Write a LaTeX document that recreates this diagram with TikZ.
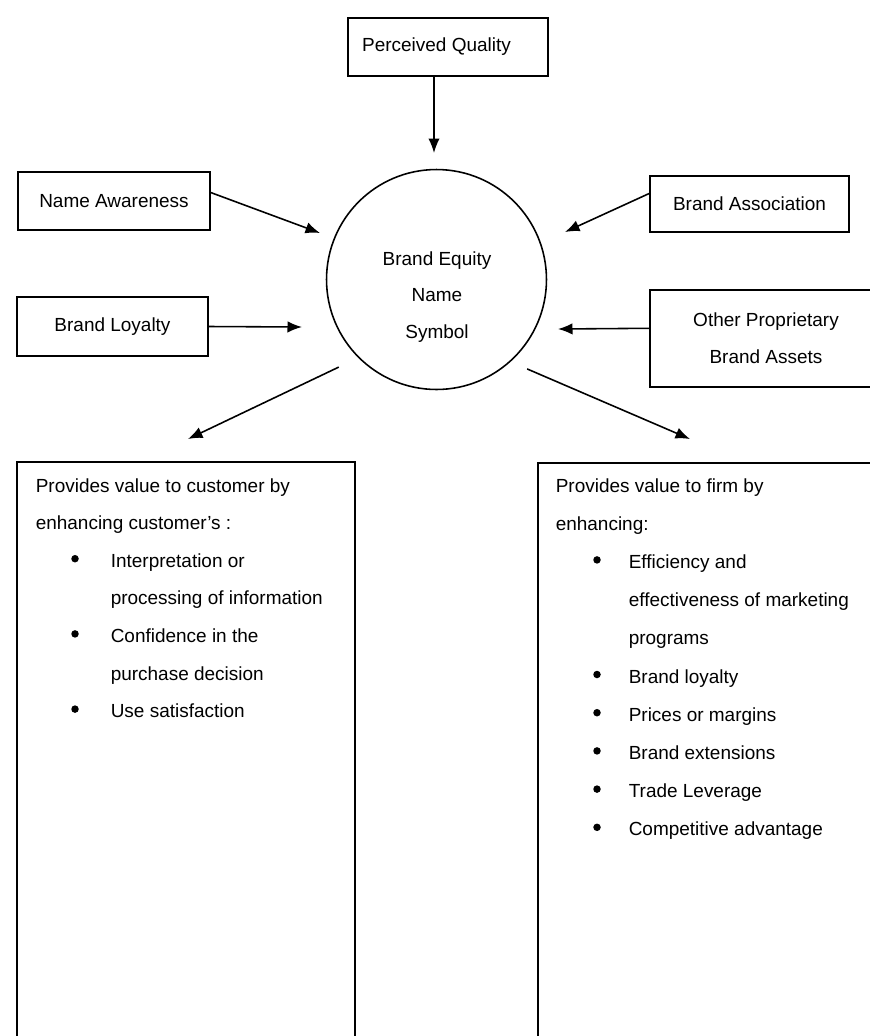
\documentclass[tikz,border=0pt]{standalone}
\usepackage{fontspec}
\setmainfont{Liberation Sans}
\usetikzlibrary{arrows.meta}

\begin{document}
\begin{tikzpicture}[x=0.02cm,y=-0.02cm,line width=0.9pt,
    font=\fontsize{10.8}{13}\selectfont,
    box/.style={draw,rectangle,inner sep=0pt,align=center},
    panel/.style={draw,rectangle,inner sep=0pt,line width=1pt},
    arr/.style={-{Latex[length=2.9mm,width=2.3mm]}},
    txt/.style={anchor=base west,inner sep=0pt},
    dot/.style={circle,fill,inner sep=0pt,minimum size=0.15cm}]
\useasboundingbox (0,0) rectangle (870,1036);
\clip (0,0) rectangle (870,1036);
\node[box,minimum width=4cm,minimum height=1.16cm] (PQ) at (448,47)
    {Perceived Quality\hspace{0.46cm}};
\node[box,minimum width=3.84cm,minimum height=1.16cm] (NA) at (114,201) {Name Awareness};
\node[box,minimum width=3.82cm,minimum height=1.18cm] (BL) at (112.5,326.5) {Brand Loyalty};
\node[box,minimum width=3.98cm,minimum height=1.12cm] (BA) at (749.5,204) {Brand Association};
\node[box,minimum width=4.64cm,minimum height=1.94cm] (OP) at (766,338.5)
    {Other Proprietary\\[8pt]Brand Assets};
\node[draw,circle,inner sep=0pt,minimum size=4.4cm] (BE) at (436.5,279.5) {};
\node[align=center,inner sep=0pt] (BEtxt) at (437,297)
    {Brand Equity\\[8pt]Name\\[8pt]Symbol};
\coordinate (pqtip) at (434,153);
\coordinate (natip) at (320,233);
\coordinate (bltip) at (302,327);
\coordinate (batip) at (565,232);
\coordinate (optip) at (558,329);
\coordinate (custtip) at (188,439);
\coordinate (firmtip) at (690,439);
\draw[arr] (PQ.south -| pqtip) -- (pqtip);
\draw[arr] (NA.5) -- (natip);
\draw[arr] (BL.east) -- (bltip);
\draw[arr] (BA.174) -- (batip);
\draw[arr] (OP.175) -- (optip);
\draw[arr,shorten <=0.43cm] (BE.225) -- (custtip);
\draw[arr,shorten <=0.36cm] (BE.312) -- (firmtip);
\node[panel,minimum width=6.76cm,minimum height=11.96cm] (cust) at (186,761) {};
\node[panel,minimum width=7.24cm,minimum height=11.94cm] (firm) at (719,761.5) {};
\foreach \x/\t [count=\i] in {35/Provides value to customer by,
    35/enhancing customer's :,110/Interpretation or,
    110/processing of information,110/Confidence in the,
    110/purchase decision,110/Use satisfaction}
  \node[txt] (cl\i) at (\x,{492+37.6*(\i-1)}) {\t};
\foreach \i in {3,5,7}
  \node[dot] (cb\i) at ([xshift=-0.7cm,yshift=0.17cm]cl\i.base west) {};
\foreach \x/\t [count=\i] in {555/Provides value to firm by,555/enhancing:,
    628/Efficiency and,628/effectiveness of marketing,628/programs,
    628/Brand loyalty,628/Prices or margins,628/Brand extensions,
    628/Trade Leverage,628/Competitive advantage}
  \node[txt] (fl\i) at (\x,{492+38.2*(\i-1)}) {\t};
\foreach \i in {3,6,7,8,9,10}
  \node[dot] (fb\i) at ([xshift=-0.62cm,yshift=0.17cm]fl\i.base west) {};
\end{tikzpicture}
\end{document}
